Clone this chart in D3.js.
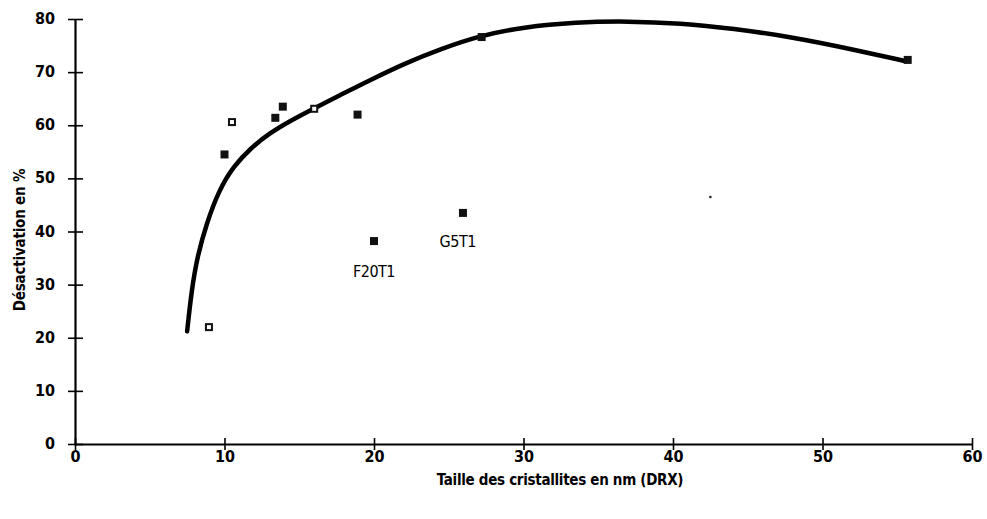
<!DOCTYPE html>
<html><head><meta charset="utf-8">
<script src="https://cdn.jsdelivr.net/npm/d3@7"></script>
<style>
html,body{margin:0;padding:0;background:#fff;}
svg{display:block;}
</style></head>
<body>
<svg id="chart" width="987" height="519"></svg>
<script>
const xTicks = [0,10,20,30,40,50,60];
const yTicks = [0,10,20,30,40,50,60,70,80];
// measured points: [size nm, deactivation %]
const filledPts = [[10.0,54.5],[13.4,61.4],[13.9,63.5],[18.9,62.0],[20.0,38.2],[25.95,43.5],[27.2,76.6],[55.7,72.3]];
const openPts = [[8.96,22.0],[10.5,60.6],[16.0,63.1]];
const strayPts = [[42.5,46.5]];
const pointLabels = [{text:"F20T1", x:20.0, y:32.3},{text:"G5T1", x:25.6, y:38.0}];
const curvePts = [[7.5,21.2],[7.8,29.0],[8.2,35.5],[8.8,41.5],[9.6,47.6],[10.6,52.3],[11.8,55.8],[13.0,58.5],[14.5,61.0],[16.0,63.2],[17.8,65.8],[19.6,68.3],[22.0,71.6],[24.5,74.4],[27.0,76.8],[30.0,78.5],[33.5,79.4],[37.0,79.6],[40.5,79.2],[44.0,78.2],[48.0,76.6],[52.0,74.3],[55.5,72.1]];
const xTitle = "Taille des cristallites en nm (DRX)";
const yTitle = "Désactivation en %";

const svg = d3.select("#chart");
const x = d3.scaleLinear().domain([0,60]).range([75,972]);
const y = d3.scaleLinear().domain([0,80]).range([444,19]);
const font = "'DejaVu Sans Condensed', 'DejaVu Sans', sans-serif";

// axes
const xAxis = svg.append("g").attr("transform","translate(0,444)")
  .call(d3.axisBottom(x).tickValues(xTicks).tickSizeInner(6).tickSizeOuter(0).tickPadding(0));
xAxis.selectAll(".tick line").attr("y1",-6).attr("y2",6).attr("stroke-width",1.6);
xAxis.select(".domain").attr("stroke-width",2.2);
xAxis.selectAll(".tick text").attr("dy",0).attr("y",13).attr("dominant-baseline","middle")
  .attr("font-family",font).attr("font-weight","bold").attr("font-size",16).attr("fill","#000");

const yAxis = svg.append("g").attr("transform","translate(75,0)")
  .call(d3.axisLeft(y).tickValues(yTicks).tickSizeInner(7).tickSizeOuter(0).tickPadding(0));
yAxis.selectAll(".tick line").attr("x1",-7).attr("x2",8).attr("stroke-width",1.6);
yAxis.select(".domain").attr("stroke-width",2.2);
yAxis.selectAll(".tick text").attr("x",-20).attr("dy",0).attr("dominant-baseline","middle")
  .attr("font-family",font).attr("font-weight","bold").attr("font-size",16).attr("fill","#000");

// titles
svg.append("text").attr("x",560).attr("y",480).attr("text-anchor","middle").attr("dominant-baseline","middle")
  .attr("font-family",font).attr("font-weight","bold").attr("font-size",15).attr("letter-spacing",-0.3).text(xTitle);
svg.append("text").attr("transform","translate(20,240) rotate(-90)").attr("text-anchor","middle").attr("dominant-baseline","middle")
  .attr("font-family",font).attr("font-weight","bold").attr("font-size",15).attr("letter-spacing",-0.2).text(yTitle);

// curve
svg.append("path").datum(curvePts)
  .attr("d", d3.line().x(d=>x(d[0])).y(d=>y(d[1])).curve(d3.curveBasis))
  .attr("fill","none").attr("stroke","#000").attr("stroke-width",4.5).attr("stroke-linecap","round");

// markers
const s = 8;
svg.selectAll(".fp").data(filledPts).join("rect")
  .attr("x",d=>x(d[0])-s/2).attr("y",d=>y(d[1])-s/2).attr("width",s).attr("height",s).attr("fill","#111");
svg.selectAll(".op").data(openPts).join("rect")
  .attr("x",d=>x(d[0])-s/2+1).attr("y",d=>y(d[1])-s/2+1).attr("width",s-2).attr("height",s-2)
  .attr("fill","#fff").attr("stroke","#111").attr("stroke-width",2);
svg.selectAll(".sp").data(strayPts).join("circle")
  .attr("cx",d=>x(d[0])).attr("cy",d=>y(d[1])).attr("r",1.3).attr("fill","#222");

svg.selectAll(".lbl").data(pointLabels).join("text")
  .attr("x",d=>x(d.x)).attr("y",d=>y(d.y)).attr("text-anchor","middle").attr("dominant-baseline","middle")
  .attr("font-family",font).attr("font-size",16).attr("letter-spacing",-0.5).attr("fill","#000").text(d=>d.text);
</script>
</body></html>
